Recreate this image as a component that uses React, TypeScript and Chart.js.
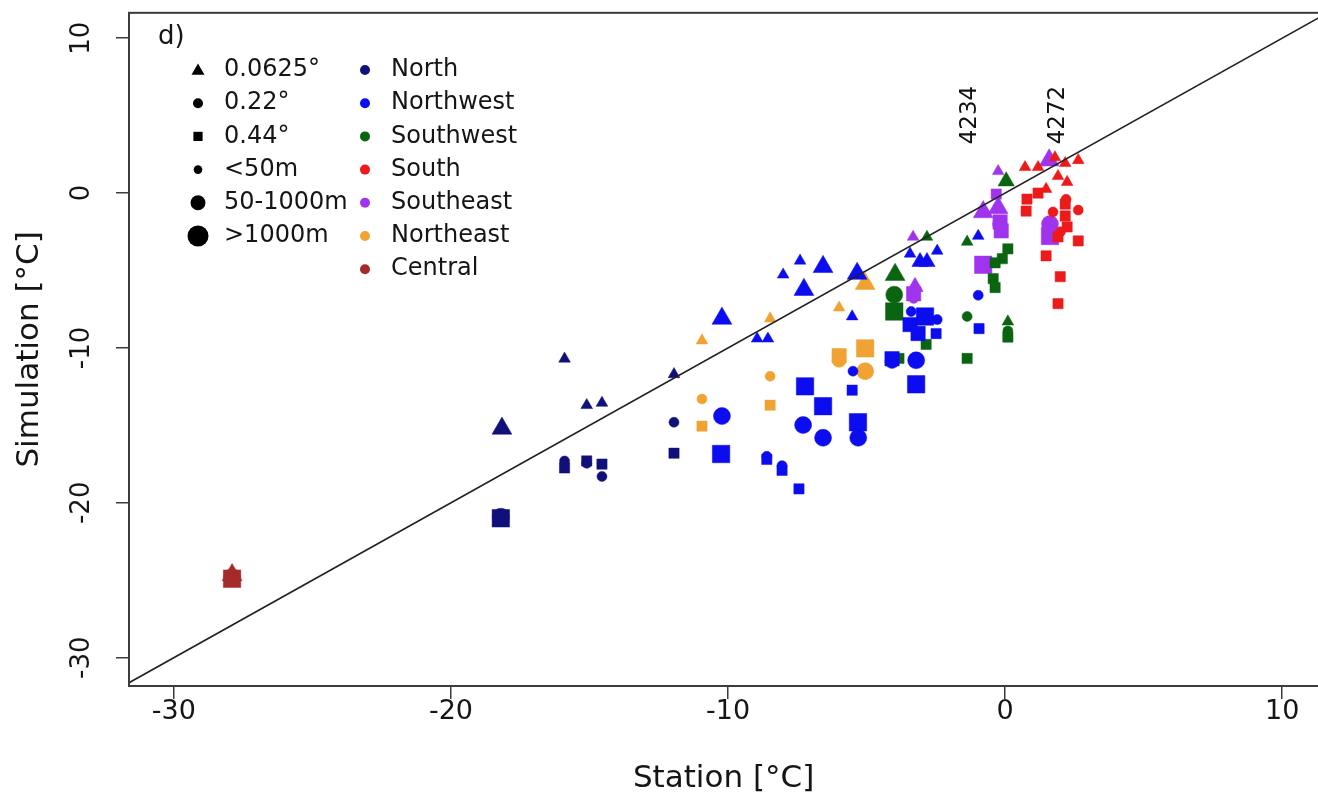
import React, { useEffect, useRef } from 'react';
import { Chart, registerables } from 'chart.js';

Chart.register(...registerables);

// ---------------- data ----------------
const regionNames = ['North', 'Northwest', 'Southwest', 'South', 'Southeast', 'Northeast', 'Central'];
const resolutionLabels = ['0.0625°', '0.22°', '0.44°'];
const elevationLabels = ['<50m', '50-1000m', '>1000m'];

// [station °C, simulation °C, resolution index, elevation class]
type P = [number, number, number, number];

const northPoints: P[] = [
  [-18.16, -15.2, 0, 2], [-18.2, -20.9, 1, 2], [-18.2, -21.0, 2, 2],
  [-15.9, -10.7, 0, 0], [-15.9, -17.3, 1, 0], [-15.9, -17.75, 2, 0],
  [-15.1, -13.7, 0, 0], [-15.1, -17.45, 1, 0], [-15.1, -17.3, 2, 0],
  [-14.55, -13.55, 0, 0], [-14.55, -18.3, 1, 0], [-14.55, -17.5, 2, 0],
  [-11.95, -11.7, 0, 0], [-11.95, -14.8, 1, 0], [-11.95, -16.8, 2, 0],
];

const northwestPoints: P[] = [
  [-10.22, -8.1, 0, 2], [-8.95, -9.4, 0, 0], [-8.56, -9.4, 0, 0], [-8.01, -5.27, 0, 0],
  [-7.4, -4.37, 0, 0], [-6.57, -4.76, 0, 2], [-7.26, -6.24, 0, 2], [-5.34, -5.2, 0, 2],
  [-5.52, -7.97, 0, 0], [-3.43, -3.92, 0, 0], [-3.07, -4.44, 0, 1], [-2.82, -4.44, 0, 1],
  [-2.45, -3.73, 0, 0], [-0.97, -2.77, 0, 0],
  [-10.22, -14.4, 1, 2], [-8.6, -17.0, 1, 0], [-8.05, -17.6, 1, 0], [-7.29, -14.98, 1, 2],
  [-6.57, -15.8, 1, 2], [-5.3, -15.8, 1, 2], [-5.49, -11.5, 1, 0], [-4.08, -10.87, 1, 1],
  [-3.21, -10.8, 1, 2], [-3.39, -7.65, 1, 0], [-2.45, -8.17, 1, 0], [-0.97, -6.6, 1, 0],
  [-10.25, -16.85, 2, 2], [-8.6, -17.2, 2, 0], [-8.05, -17.9, 2, 0], [-7.44, -19.1, 2, 0],
  [-7.22, -12.48, 2, 2], [-6.57, -13.76, 2, 2], [-5.31, -14.8, 2, 2], [-5.52, -12.73, 2, 0],
  [-2.89, -7.97, 2, 2], [-3.43, -8.49, 2, 1], [-3.14, -9.07, 2, 1], [-2.49, -9.07, 2, 0],
  [-3.21, -12.35, 2, 2], [-4.08, -10.7, 2, 1], [-0.94, -8.75, 2, 0],
];

const southwestPoints: P[] = [
  [-3.97, -5.27, 0, 2], [-2.82, -2.83, 0, 0], [-1.37, -3.15, 0, 0], [0.04, 0.77, 0, 1], [0.1, -8.3, 0, 0],
  [-4.0, -6.56, 1, 2], [-1.37, -7.97, 1, 0], [0.1, -8.9, 1, 0],
  [-4.0, -7.65, 2, 2], [-3.83, -10.68, 2, 0], [-2.85, -9.77, 2, 0], [-1.37, -10.68, 2, 0],
  [0.1, -3.6, 2, 0], [-0.1, -4.24, 2, 0], [-0.36, -4.5, 2, 0], [-0.43, -5.53, 2, 0],
  [-0.36, -6.1, 2, 0], [0.1, -9.3, 2, 0],
];

const southPoints: P[] = [
  [0.72, 1.67, 0, 0], [1.19, 1.67, 0, 0], [1.8, 2.3, 0, 0], [2.17, 1.93, 0, 0],
  [2.64, 2.12, 0, 0], [1.91, 1.09, 0, 0], [2.24, 0.71, 0, 0], [1.48, 0.26, 0, 0],
  [2.2, -0.4, 1, 0], [2.64, -1.1, 1, 0], [1.73, -1.22, 1, 0], [2.0, -2.5, 1, 0],
  [0.79, -0.39, 2, 0], [0.76, -1.16, 2, 0], [1.19, 0.0, 2, 0], [2.17, -0.71, 2, 0],
  [2.17, -1.48, 2, 0], [2.24, -2.19, 2, 0], [1.91, -2.83, 2, 0], [2.64, -3.09, 2, 0],
  [1.48, -4.05, 2, 0], [1.99, -5.4, 2, 0], [1.91, -7.14, 2, 0],
];

const southeastPoints: P[] = [
  [-3.32, -2.83, 0, 0], [-3.25, -6.05, 0, 1], [-0.25, 1.41, 0, 0], [-0.79, -1.22, 0, 2],
  [-0.25, -0.96, 0, 2], [1.59, 2.12, 0, 2],
  [-3.3, -6.8, 1, 0], [-0.2, -2.0, 1, 1], [1.62, -2.0, 1, 2],
  [-3.3, -6.5, 2, 1], [-0.32, -0.06, 2, 0], [-0.18, -1.87, 2, 1], [-0.14, -2.44, 2, 1],
  [-0.79, -4.63, 2, 2], [1.62, -2.77, 2, 2],
];

const northeastPoints: P[] = [
  [-10.94, -9.52, 0, 0], [-8.48, -8.1, 0, 0], [-5.99, -7.4, 0, 0], [-5.05, -5.85, 0, 2],
  [-10.94, -13.3, 1, 0], [-8.48, -11.83, 1, 0], [-5.99, -10.8, 1, 1], [-5.05, -11.5, 1, 2],
  [-10.94, -15.05, 2, 0], [-8.48, -13.7, 2, 0], [-5.99, -10.5, 2, 1], [-5.05, -10.03, 2, 2],
];

const centralPoints: P[] = [
  [-27.9, -24.66, 0, 2], [-27.9, -24.8, 1, 2], [-27.9, -24.9, 2, 2],
];

const regionPoints = [northPoints, northwestPoints, southwestPoints, southPoints, southeastPoints, northeastPoints, centralPoints];

const xLimits = [-31.62, 11.3];
const yLimits = [-31.83, 11.64];
const oneToOneLine = [-40, 20];

const stationLabels = ['4234', '4272'];
const stationLabelX = [-1.26, 1.9];
const stationLabelY = [3.15, 3.15];

// ---------------- styles ----------------
const FONT = '"DejaVu Sans", sans-serif';
const regionColors = ['#10107a', '#0c0cf0', '#0b6410', '#ec1a1a', '#a034ee', '#f0a232', '#a52a2a'];
const shapeStyles = ['triangle', 'circle', 'rect'];
const shapeScale = [1.35, 1, 1.45];
const elevRadius = [5, 7, 8.5];

const CANVAS_W = 1331;
const CANVAS_H = 799;

function buildDatasets() {
  const ds: any[] = [];
  regionPoints.forEach((pts, r) => {
    [0, 1, 2].forEach((s) => {
      const sel = pts.filter((p) => p[2] === s);
      if (!sel.length) return;
      ds.push({
        label: regionNames[r] + ' ' + resolutionLabels[s],
        data: sel.map((p) => ({ x: p[0], y: p[1] })),
        pointStyle: shapeStyles[s],
        pointRadius: sel.map((p) => elevRadius[p[3]] * shapeScale[s]),
        backgroundColor: regionColors[r],
        borderColor: regionColors[r],
        borderWidth: 0.5,
        showLine: false,
        order: 1,
      });
    });
  });
  ds.push({
    label: '1:1',
    data: oneToOneLine.map((v) => ({ x: v, y: v })),
    showLine: true,
    pointRadius: 0,
    borderColor: '#222',
    borderWidth: 1.6,
    order: 0,
  });
  return ds;
}

function drawSymbol(ctx: CanvasRenderingContext2D, kind: string, x: number, y: number, r: number) {
  ctx.beginPath();
  if (kind === 'triangle') {
    ctx.moveTo(x, y - r);
    ctx.lineTo(x + r * 0.866, y + r * 0.5);
    ctx.lineTo(x - r * 0.866, y + r * 0.5);
    ctx.closePath();
  } else if (kind === 'rect') {
    const h = r * Math.SQRT1_2;
    ctx.rect(x - h, y - h, 2 * h, 2 * h);
  } else {
    ctx.arc(x, y, r, 0, Math.PI * 2);
  }
  ctx.fill();
}

const decorPlugin = {
  id: 'decor',
  afterDraw(chart: any) {
    const { ctx, chartArea: ca, scales } = chart;
    const xs = scales.x;
    const ys = scales.y;
    ctx.save();
    // plot box
    ctx.strokeStyle = '#3c3c3c';
    ctx.lineWidth = 2;
    ctx.strokeRect(ca.left, ca.top, ca.right + 20 - ca.left, ca.bottom - ca.top);

    // y tick labels (rotated, R style)
    ctx.fillStyle = '#151515';
    ctx.font = '26px ' + FONT;
    ys.ticks.forEach((t: any) => {
      const py = ys.getPixelForValue(t.value);
      ctx.save();
      ctx.translate(82, py);
      ctx.rotate(-Math.PI / 2);
      ctx.textAlign = 'center';
      ctx.textBaseline = 'middle';
      ctx.fillText(String(t.label), 0, 0);
      ctx.restore();
    });

    // panel letter
    ctx.font = '26px ' + FONT;
    ctx.textAlign = 'left';
    ctx.textBaseline = 'middle';
    ctx.fillText('d)', 158, 37);

    // legend
    const rowY = (i: number) => 70 + i * 33.2;
    ctx.font = '24px ' + FONT;
    const col1 = [
      { kind: 'triangle', r: 7.5, text: resolutionLabels[0] },
      { kind: 'circle', r: 5, text: resolutionLabels[1] },
      { kind: 'rect', r: 6.5, text: resolutionLabels[2] },
      { kind: 'circle', r: 4.3, text: elevationLabels[0] },
      { kind: 'circle', r: 7.5, text: elevationLabels[1] },
      { kind: 'circle', r: 10.5, text: elevationLabels[2] },
    ];
    col1.forEach((it, i) => {
      ctx.fillStyle = '#000';
      drawSymbol(ctx, it.kind, 198, rowY(i) + (it.kind === 'triangle' ? 1 : 0), it.r);
      ctx.fillStyle = '#151515';
      ctx.fillText(it.text, 224, rowY(i));
    });
    regionNames.forEach((name, i) => {
      ctx.fillStyle = regionColors[i];
      drawSymbol(ctx, 'circle', 365, rowY(i), 5);
      ctx.fillStyle = '#151515';
      ctx.fillText(name, 391, rowY(i));
    });

    // station id labels
    ctx.font = '23px ' + FONT;
    stationLabels.forEach((lab, i) => {
      const px = xs.getPixelForValue(stationLabelX[i]);
      const py = ys.getPixelForValue(stationLabelY[i]);
      ctx.save();
      ctx.translate(px, py);
      ctx.rotate(-Math.PI / 2);
      ctx.textAlign = 'left';
      ctx.textBaseline = 'middle';
      ctx.fillStyle = '#111';
      ctx.fillText(lab, 0, 0);
      ctx.restore();
    });
    ctx.restore();
  },
};

export default function App() {
  const ref = useRef<HTMLCanvasElement | null>(null);
  useEffect(() => {
    if (!ref.current) return;
    Chart.defaults.font.family = FONT;
    const chart = new Chart(ref.current, {
      type: 'scatter',
      data: { datasets: buildDatasets() },
      options: {
        animation: false,
        responsive: false,
        devicePixelRatio: 1,
        events: [],
        layout: { padding: { top: 10, left: 0, right: 0, bottom: 0 } },
        plugins: { legend: { display: false }, tooltip: { enabled: false } },
        scales: {
          x: {
            type: 'linear',
            min: xLimits[0],
            max: xLimits[1],
            ticks: {
              stepSize: 10,
              includeBounds: false,
              font: { family: FONT, size: 27 },
              color: '#151515',
              padding: -3,
              maxRotation: 0,
            },
            grid: { drawOnChartArea: false, drawTicks: true, tickLength: 13, color: '#3c3c3c', lineWidth: 1.5 },
            border: { display: false },
            title: {
              display: true,
              text: 'Station [°C]',
              font: { family: FONT, size: 31 },
              color: '#151515',
              padding: { top: 0, bottom: 1 },
            },
            afterFit: (s: any) => {
              s.height = 113;
              s.paddingLeft = 0;
              s.paddingRight = 0;
            },
          },
          y: {
            type: 'linear',
            min: yLimits[0],
            max: yLimits[1],
            ticks: { stepSize: 10, includeBounds: false, display: false },
            grid: { drawOnChartArea: false, drawTicks: true, tickLength: 13, color: '#3c3c3c', lineWidth: 1.5 },
            border: { display: false },
            title: {
              display: true,
              text: 'Simulation [°C]',
              font: { family: FONT, size: 31 },
              color: '#151515',
              padding: { top: 11, bottom: 0 },
            },
            afterFit: (s: any) => {
              s.width = 129;
              s.paddingTop = 0;
              s.paddingBottom = 0;
            },
          },
        },
      },
      plugins: [decorPlugin],
    });
    return () => chart.destroy();
  }, []);
  return (
    <div style={{ position: 'absolute', left: 0, top: 0, width: 1318, height: 799, overflow: 'hidden', background: '#fff' }}>
      <canvas ref={ref} width={CANVAS_W} height={CANVAS_H} style={{ display: 'block' }} />
    </div>
  );
}
